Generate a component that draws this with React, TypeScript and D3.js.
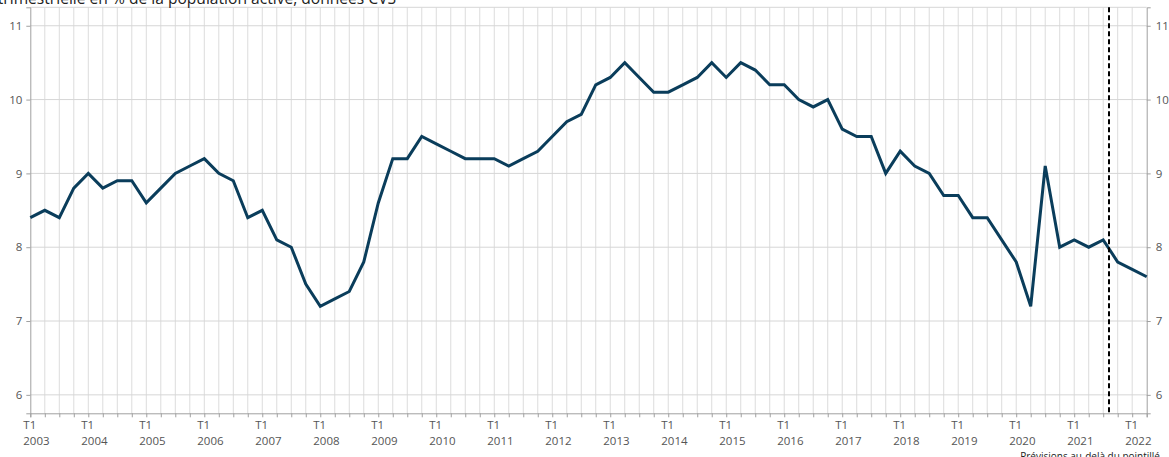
import React, { useEffect, useRef } from "react";
import * as d3 from "d3";

// Taux de chômage trimestriel, France (en % de la population active)
const years = [
  2003, 2004, 2005, 2006, 2007, 2008, 2009, 2010, 2011, 2012,
  2013, 2014, 2015, 2016, 2017, 2018, 2019, 2020, 2021, 2022,
];
const quarters = ["T1", "T2", "T3", "T4"];
const unemployment = [
  8.4, 8.5, 8.4, 8.8, 9.0, 8.8, 8.9, 8.9, // 2003-2004
  8.6, 8.8, 9.0, 9.1, 9.2, 9.0, 8.9, 8.4, // 2005-2006
  8.5, 8.1, 8.0, 7.5, 7.2, 7.3, 7.4, 7.8, // 2007-2008
  8.6, 9.2, 9.2, 9.5, 9.4, 9.3, 9.2, 9.2, // 2009-2010
  9.2, 9.1, 9.2, 9.3, 9.5, 9.7, 9.8, 10.2, // 2011-2012
  10.3, 10.5, 10.3, 10.1, 10.1, 10.2, 10.3, 10.5, // 2013-2014
  10.3, 10.5, 10.4, 10.2, 10.2, 10.0, 9.9, 10.0, // 2015-2016
  9.6, 9.5, 9.5, 9.0, 9.3, 9.1, 9.0, 8.7, // 2017-2018
  8.7, 8.4, 8.4, 8.1, 7.8, 7.2, 9.1, 8.0, // 2019-2020
  8.1, 8.0, 8.1, 7.8, 7.7, 7.6, // 2021-2022 T2
];
const yTicks = [6, 7, 8, 9, 10, 11];
const forecastFrom = 74.4; // position du pointillé (en trimestres)
const title = "Moyenne trimestrielle en % de la population active, données CVS";
const note = "Prévisions au-delà du pointillé";

const W = 1169;
const H = 457;

const App = () => {
  const chartRef = useRef<HTMLDivElement | null>(null);

  useEffect(() => {
    drawChart();
  }, []);

  const drawChart = () => {
    const font = "'Open Sans', 'DejaVu Sans', sans-serif";
    const left = 30.3;
    const right = 1146.7;
    const top = 7.3;
    const bottom = 413.3;

    const x = d3.scaleLinear().domain([0, unemployment.length - 1]).range([left, right]);
    const y = d3.scaleLinear().domain([5.75, 11.25]).range([bottom, top]);

    d3.select(chartRef.current).select("svg").remove();

    const svg = d3
      .select(chartRef.current)
      .append("svg")
      .attr("width", W)
      .attr("height", H)
      .style("position", "absolute")
      .style("left", "0px")
      .style("top", "0px")
      .style("font-family", font);

    // grille verticale (un trait par trimestre)
    const idx = d3.range(unemployment.length);
    svg
      .append("g")
      .selectAll("line")
      .data(idx.slice(1, -1))
      .enter()
      .append("line")
      .attr("x1", (d) => x(d))
      .attr("x2", (d) => x(d))
      .attr("y1", top)
      .attr("y2", bottom)
      .attr("stroke", "#dcdcdc")
      .attr("stroke-width", 1);

    // grille horizontale
    svg
      .append("g")
      .selectAll("line")
      .data(yTicks)
      .enter()
      .append("line")
      .attr("x1", left)
      .attr("x2", right)
      .attr("y1", (d) => y(d))
      .attr("y2", (d) => y(d))
      .attr("stroke", "#d6d6d6")
      .attr("stroke-width", 1);

    // bord haut
    svg
      .append("line")
      .attr("x1", left)
      .attr("x2", right)
      .attr("y1", top)
      .attr("y2", top)
      .attr("stroke", "#d6d6d6");

    // axes gauche / droite
    const fmt = d3.format("d");
    const yLeft = d3.axisLeft(y).tickValues(yTicks).tickFormat(fmt).tickSize(4).tickPadding(4);
    const yRight = d3.axisRight(y).tickValues(yTicks).tickFormat(fmt).tickSize(4).tickPadding(5);
    const gl = svg.append("g").attr("transform", `translate(${left},0)`).call(yLeft);
    const gr = svg.append("g").attr("transform", `translate(${right},0)`).call(yRight);
    [gl, gr].forEach((g) => {
      g.select(".domain").attr("stroke", "#a0a0a0");
      g.selectAll(".tick line").attr("stroke", "#a0a0a0");
      g.selectAll(".tick text")
        .attr("fill", "#555")
        .style("font-size", "11.5px")
        .style("font-family", font);
    });

    // axe des x
    const xAxis = d3.axisBottom(x).tickValues(idx).tickSize(4).tickFormat(() => "");
    const gx = svg.append("g").attr("transform", `translate(0,${bottom})`).call(xAxis);
    gx.select(".domain").attr("stroke", "#a0a0a0");
    gx.selectAll(".tick line").attr("stroke", "#a0a0a0");

    const labels = svg
      .append("g")
      .selectAll("text")
      .data(years)
      .enter()
      .append("text")
      .attr("x", (_, i) => x(i * 4) - 7)
      .attr("y", bottom + 16)
      .attr("fill", "#555")
      .style("font-size", "11.5px");
    labels.append("tspan").text(quarters[0]);
    labels
      .append("tspan")
      .attr("x", (_, i) => x(i * 4) - 7)
      .attr("dy", 16)
      .text((d) => String(d));

    // courbe
    const line = d3
      .line<number>()
      .x((_, i) => x(i))
      .y((d) => y(d));
    svg
      .append("path")
      .datum(unemployment)
      .attr("d", line)
      .attr("fill", "none")
      .attr("stroke", "#0a3d5b")
      .attr("stroke-width", 3)
      .attr("stroke-linejoin", "miter");

    // pointillé des prévisions
    svg
      .append("line")
      .attr("x1", x(forecastFrom))
      .attr("x2", x(forecastFrom))
      .attr("y1", top)
      .attr("y2", bottom)
      .attr("stroke", "#000")
      .attr("stroke-width", 2)
      .attr("stroke-dasharray", "5,3");

    // titre (coupé en haut à gauche)
    svg
      .append("text")
      .attr("x", 396)
      .attr("y", 4)
      .attr("text-anchor", "end")
      .attr("fill", "#222")
      .style("font-size", "15.6px")
      .text(title);

    // note
    svg
      .append("text")
      .attr("x", 1160)
      .attr("y", 460)
      .attr("text-anchor", "end")
      .attr("fill", "#222")
      .style("font-size", "10px")
      .text(note);
  };

  return <div ref={chartRef} style={{ width: W, height: H }}></div>;
};

export default App;
